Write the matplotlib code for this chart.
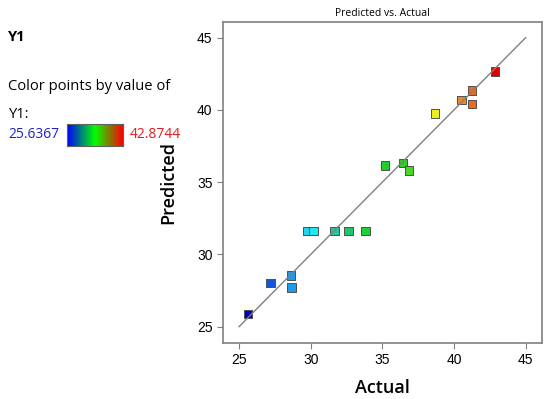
import numpy as np
import matplotlib
matplotlib.use("Agg")
import matplotlib.pyplot as plt
from matplotlib.colors import LinearSegmentedColormap

actual = [25.64, 27.19, 28.60, 28.65, 29.77, 30.19, 31.65, 32.63, 33.81,
          35.17, 36.42, 36.88, 38.68, 40.51, 41.26, 41.26, 42.87]
predicted = [25.88, 28.00, 28.53, 27.70, 31.62, 31.62, 31.62, 31.62, 31.62,
             36.14, 36.31, 35.80, 39.74, 40.67, 41.33, 40.41, 42.65]
y_min, y_max = 25.6367, 42.8744
ticks = [25, 30, 35, 40, 45]

plt.rcParams['font.family'] = ['Open Sans', 'DejaVu Sans']

# point colours: blue -> cyan -> green -> yellow -> red
pt_cmap = LinearSegmentedColormap.from_list("pts", [
    (0.0, "#0000c8"), (0.1, "#1060e0"), (0.2, "#20b0f0"), (0.26, "#20e8f0"),
    (0.38, "#20c080"), (0.48, "#20d030"), (0.62, "#20d020"), (0.68, "#70e020"),
    (0.76, "#f0f020"), (0.87, "#f08020"), (0.92, "#f06020"), (1.0, "#e00000")])
bar_cmap = LinearSegmentedColormap.from_list("bar", ["#0000ff", "#00ff00", "#ff0000"])

fig = plt.figure(figsize=(5.5, 3.99), dpi=100)
ax = fig.add_axes([0.4055, 0.1404, 0.5795, 0.8045])

ax.plot([25, 45], [25, 45], color="#808080", lw=1.0, zorder=3)
norm_vals = (np.array(actual) - y_min) / (y_max - y_min)
ax.scatter(actual, predicted, marker="s", s=36, c=pt_cmap(norm_vals),
           edgecolors="#505050", linewidths=0.7, zorder=2)

ax.set_xlim(23.88, 46.12)
ax.set_ylim(23.87, 46.08)
ax.set_xticks(ticks)
ax.set_yticks(ticks)
ax.tick_params(labelsize=10, color="#808080", length=4, width=0.8)
for lab in ax.get_xticklabels() + ax.get_yticklabels():
    lab.set_family("Liberation Sans")
for sp in ax.spines.values():
    sp.set_color("#808080")
    sp.set_linewidth(1.2)
ax.set_title("Predicted vs. Actual", fontsize=7.5, pad=4)
ax.set_xlabel("Actual", fontsize=13, fontweight="semibold", labelpad=8)
ax.set_ylabel("Predicted", fontsize=13, fontweight="semibold", labelpad=14)

# left legend panel
fig.text(8 / 550, 1 - 37 / 399, "Y1", fontsize=10.5, fontweight="bold", va="center")
fig.text(8 / 550, 1 - 86 / 399, "Color points by value of", fontsize=10.6, va="center")
fig.text(8 / 550, 1 - 114 / 399, "Y1:", fontsize=10.6, va="center")
fig.text(8 / 550, 1 - 135 / 399, f"{y_min:.4f}", fontsize=10, color="#2020d0", va="center")
fig.text(130 / 550, 1 - 135 / 399, f"{y_max:.4f}", fontsize=10, color="#e02020", va="center")
cax = fig.add_axes([67 / 550, 1 - 146 / 399, 56 / 550, 22 / 399])
cax.imshow(np.linspace(0, 1, 256)[None, :], aspect="auto", cmap=bar_cmap)
cax.set_xticks([])
cax.set_yticks([])
for sp in cax.spines.values():
    sp.set_color("#606060")
    sp.set_linewidth(0.8)

fig.savefig("out.png", dpi=100)
